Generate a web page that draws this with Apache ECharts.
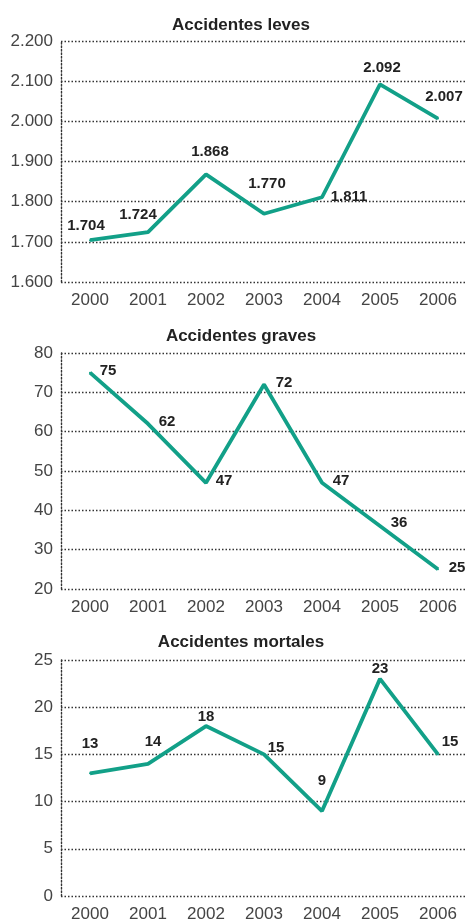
<!DOCTYPE html>
<html lang="es">
<head>
<meta charset="UTF-8">
<script src="https://cdn.jsdelivr.net/npm/echarts@6/dist/echarts.min.js"></script>
<title>Accidentes</title>
<style>
  html, body { margin: 0; padding: 0; background: #fff; }
  #chart { width: 467px; height: 923px; }
</style>
</head>
<body>
<div id="chart"></div>
<script>
// datos
var years = ['2000', '2001', '2002', '2003', '2004', '2005', '2006'];
var leves = [1704, 1724, 1868, 1770, 1811, 2092, 2007];
var graves = [75, 62, 47, 72, 47, 36, 25];
var mortales = [13, 14, 18, 15, 9, 23, 15];
var titles = ['Accidentes leves', 'Accidentes graves', 'Accidentes mortales'];

// desplazamiento de cada etiqueta respecto al punto
var offLeves = [[-4, -14], [-10, -17], [4, -22], [3, -30], [27, 0], [2, -17], [6, -22]];
var offGraves = [[18, -2], [19, -2], [18, -2], [20, -2], [19, -2], [19, -3], [19, -1]];
var offMortales = [[0, -29], [5, -22], [0, -9], [12, -7], [0, -30], [0, -10], [12, -13]];

var FONT = '"Liberation Sans", Arial, sans-serif';
var TEAL = '#12a088';

function fmt(v) {
    return String(v).replace(/\B(?=(\d{3})+(?!\d))/g, '.');
}

var grids = [
    { left: 61, width: 406, top: 41, height: 241 },
    { left: 61, width: 406, top: 353, height: 236 },
    { left: 61, width: 406, top: 660, height: 238 }
];
var ranges = [[1600, 2200, 100], [20, 80, 10], [0, 25, 5]];
var titleTops = [12, 323, 629];

var dotted = { type: [1.5, 2], color: '#333', width: 1.4 };

var xAxes = [], yAxes = [], series = [], titleList = [];
[leves, graves, mortales].forEach(function (vals, k) {
    var offs = [offLeves, offGraves, offMortales][k];
    titleList.push({
        text: titles[k], left: 236, top: titleTops[k], textAlign: 'center',
        textStyle: { fontFamily: FONT, fontSize: 17, fontWeight: 'bold', color: '#222' }
    });
    xAxes.push({
        type: 'category', gridIndex: k, data: years, boundaryGap: true,
        axisLine: { show: false }, axisTick: { show: false },
        axisLabel: { margin: 10, fontFamily: FONT, fontSize: 17, color: '#444' }
    });
    yAxes.push({
        type: 'value', gridIndex: k, min: ranges[k][0], max: ranges[k][1], interval: ranges[k][2],
        axisLine: { show: true, lineStyle: dotted },
        axisTick: { show: false },
        splitLine: { show: true, lineStyle: dotted },
        axisLabel: { margin: 8, fontFamily: FONT, fontSize: 17, color: '#444', formatter: fmt }
    });
    series.push({
        type: 'line', xAxisIndex: k, yAxisIndex: k,
        symbol: 'circle', symbolSize: 2,
        itemStyle: { color: TEAL },
        lineStyle: { color: TEAL, width: 3.8 },
        label: {
            show: true, position: 'inside', color: '#222',
            fontFamily: FONT, fontSize: 15, fontWeight: 'bold',
            formatter: function (p) { return fmt(p.value); }
        },
        data: vals.map(function (v, i) { return { value: v, label: { offset: offs[i] } }; })
    });
});

var myChart = echarts.init(document.getElementById('chart'));
myChart.setOption({
    animation: false,
    title: titleList,
    grid: grids,
    xAxis: xAxes,
    yAxis: yAxes,
    series: series
});
</script>
</body>
</html>
